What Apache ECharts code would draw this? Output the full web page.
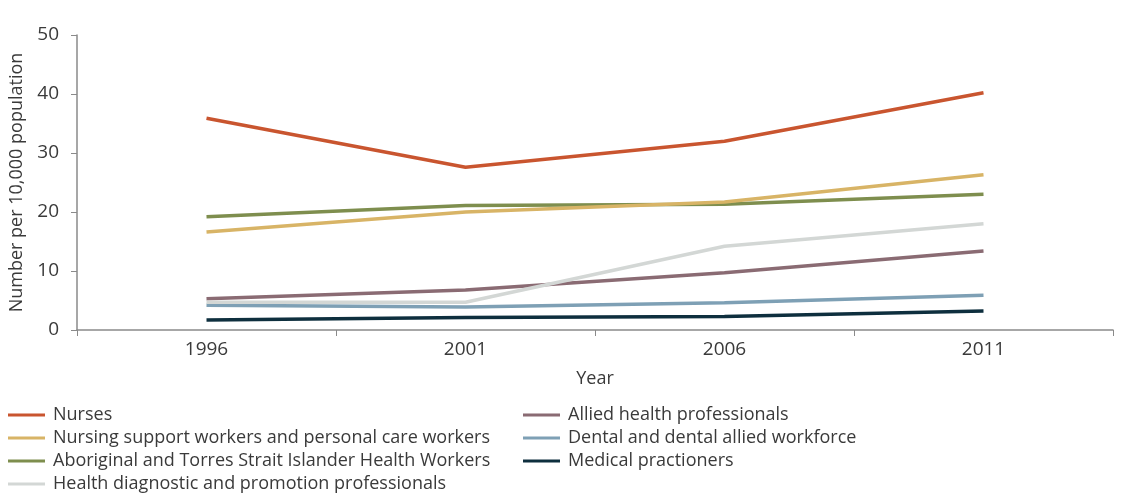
<!DOCTYPE html>
<html>
<head>
<meta charset="UTF-8">
<script src="https://cdn.jsdelivr.net/npm/echarts@6/dist/echarts.min.js"></script>
<title>Health workforce</title>
<style>
  html, body { margin: 0; padding: 0; background: #fff; }
  #main { width: 1121px; height: 499px; }
</style>
</head>
<body>
<div id="main"></div>
<script type="text/javascript">
// values
var years = ['1996', '2001', '2006', '2011'];
var nurses = [35.9, 27.6, 32.0, 40.2];
var nursingSupport = [16.6, 20.0, 21.7, 26.3];
var aboriginal = [19.2, 21.1, 21.3, 23.0];
var diagnostic = [4.7, 4.7, 14.2, 18.0];
var allied = [5.3, 6.8, 9.7, 13.4];
var dental = [4.2, 3.9, 4.6, 5.9];
var medical = [1.7, 2.1, 2.3, 3.2];
var yTicks = [0, 10, 20, 30, 40, 50];

var names = [
  'Nurses',
  'Nursing support workers and personal care workers',
  'Aboriginal and Torres Strait Islander Health Workers',
  'Health diagnostic and promotion professionals',
  'Allied health professionals',
  'Dental and dental allied workforce',
  'Medical practioners'
];
var colors = ['#c9552f', '#d8b466', '#7e8e4e', '#d3d7d5', '#8a6b73', '#7ea0b5', '#0e2f3e'];
var values = [nurses, nursingSupport, aboriginal, diagnostic, allied, dental, medical];

var font = '"Open Sans", sans-serif';
var txt = '#3a3a3a';
var axisCol = '#8a8a8a';

var series = [];
for (var i = 0; i < names.length; i++) {
  series.push({
    name: names[i],
    type: 'line',
    data: values[i],
    symbol: 'none',
    z: 10 - i,
    lineStyle: { width: 3.5, color: colors[i] },
    itemStyle: { color: colors[i] }
  });
}

var legendBase = {
  orient: 'vertical',
  icon: 'rect',
  itemWidth: 37,
  itemHeight: 3,
  itemGap: 5,
  textStyle: { fontFamily: font, fontSize: 18, color: txt, padding: [0, 0, 0, 3] }
};

var myChart = echarts.init(document.getElementById('main'));
var option = {
  animation: false,
  color: colors,
  grid: { left: 77, right: 8, top: 35, bottom: 169 },
  legend: [
    Object.assign({}, legendBase, { left: 3, top: 401, data: names.slice(0, 4) }),
    Object.assign({}, legendBase, { left: 518, top: 401, data: names.slice(4) })
  ],
  xAxis: {
    type: 'category',
    data: years,
    boundaryGap: true,
    name: 'Year',
    nameLocation: 'middle',
    nameGap: 40,
    nameTextStyle: { fontFamily: font, fontSize: 18, color: txt },
    axisLine: { lineStyle: { color: axisCol, width: 1.5 } },
    axisTick: { show: true, length: 6, lineStyle: { color: axisCol } },
    axisLabel: { fontFamily: font, fontSize: 19, color: txt, margin: 10 }
  },
  yAxis: {
    type: 'value',
    min: yTicks[0],
    max: yTicks[yTicks.length - 1],
    interval: 10,
    name: 'Number per 10,000 population',
    nameLocation: 'middle',
    nameGap: 50,
    nameTextStyle: { fontFamily: font, fontSize: 18, color: txt },
    splitLine: { show: false },
    axisLine: { show: true, lineStyle: { color: axisCol, width: 1.5 } },
    axisTick: { show: true, length: 6, lineStyle: { color: axisCol } },
    axisLabel: { fontFamily: font, fontSize: 19, color: txt, margin: 18 }
  },
  series: series
};
myChart.setOption(option);
</script>
</body>
</html>
